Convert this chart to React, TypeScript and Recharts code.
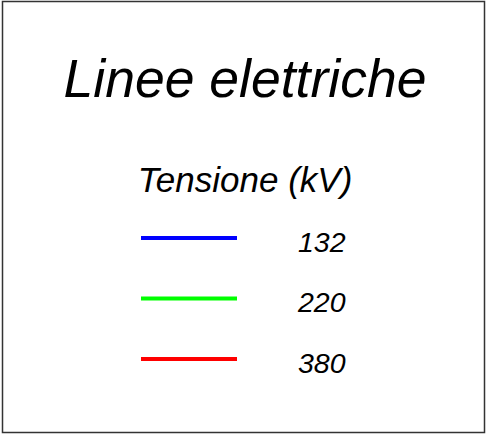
import React from "react";
import { LineChart, Line, Legend } from "recharts";

const title = "Linee elettriche";
const legendTitle = "Tensione (kV)";
const voltages = ["132", "220", "380"];
const colors = ["#0000ff", "#00ff00", "#ff0000"];

const W = 486;
const H = 435;
const FONT = "'Liberation Sans', Arial, sans-serif";

const LegendBox = (props: any) => {
  const payload = props.payload || [];
  return (
    <svg width={W} height={H} style={{ display: "block" }}>
      <rect x={2.5} y={1.5} width={482} height={431} fill="#fff" stroke="#333" strokeWidth={1.5} />
      <text x={245} y={97} textAnchor="middle" fontFamily={FONT} fontStyle="italic" fontSize={53.5} fill="#000">
        {title}
      </text>
      <text x={245} y={192} textAnchor="middle" fontFamily={FONT} fontStyle="italic" fontSize={35} fill="#000">
        {legendTitle}
      </text>
      {payload.map((p: any, i: number) => {
        const cy = 238 + i * 60.5;
        return (
          <g key={p.value}>
            <line x1={141} x2={237} y1={cy} y2={cy} stroke={p.color} strokeWidth={4} />
            <text x={298} y={cy + 13.5} fontFamily={FONT} fontStyle="italic" fontSize={28.5} fill="#000">
              {p.value}
            </text>
          </g>
        );
      })}
    </svg>
  );
};

export default function App() {
  return (
    <div style={{ position: "absolute", left: 0, top: 0 }}>
      <LineChart width={W} height={H} data={[]} margin={{ top: 0, right: 0, bottom: 0, left: 0 }}>
        {voltages.map((v, i) => (
          <Line key={v} dataKey={v} name={v} stroke={colors[i]} isAnimationActive={false} dot={false} />
        ))}
        <Legend
          content={LegendBox}
          wrapperStyle={{ left: 0, top: 0, width: W, height: H, margin: 0, padding: 0 }}
        />
      </LineChart>
    </div>
  );
}
